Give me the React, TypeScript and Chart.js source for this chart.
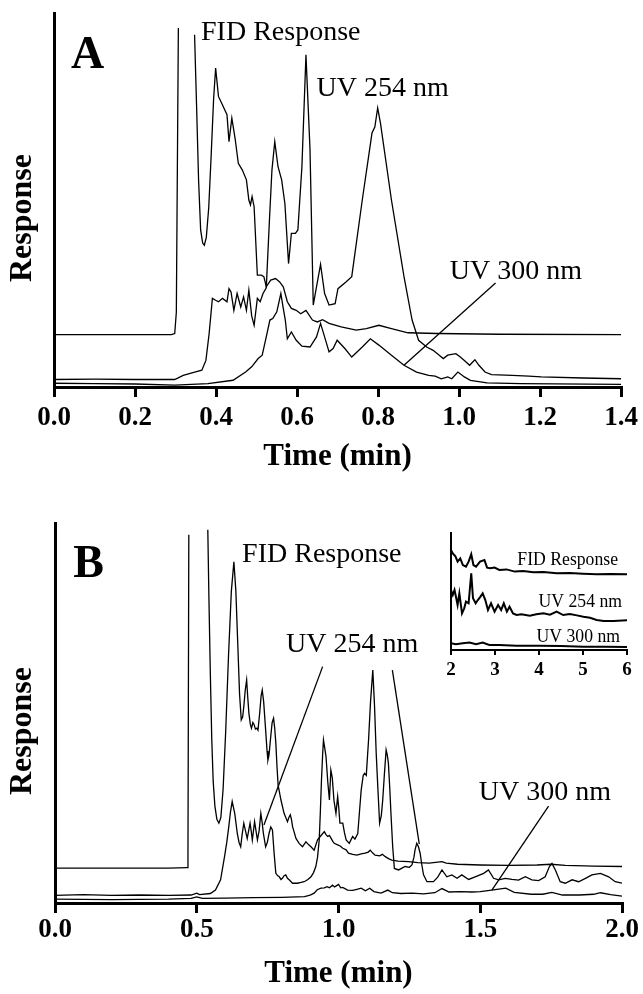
import React, { useEffect, useRef } from "react";
import { Chart, registerables } from "chart.js";

Chart.register(...registerables);

const SERIF = "'Liberation Serif', 'Times New Roman', Times, serif";

// ---------------- Panel A data (time in min, response in % of axis height) ----------------
const aFidTime = [0, 0.1, 0.2, 0.29, 0.298, 0.302, 0.307, 0.33, 0.347, 0.352, 0.357, 0.362, 0.367, 0.371, 0.376, 0.382, 0.388, 0.394, 0.399, 0.406, 0.416, 0.427, 0.432, 0.439, 0.447, 0.455, 0.465, 0.475, 0.481, 0.485, 0.489, 0.494, 0.502, 0.512, 0.518, 0.524, 0.535, 0.547, 0.557, 0.566, 0.576, 0.586, 0.598, 0.609, 0.622, 0.638, 0.65, 0.663, 0.679, 0.709, 0.746, 0.771, 0.802, 0.833, 0.874, 0.946, 1.1, 1.4];
const aFidResp = [14.0, 14.0, 14.0, 14.0, 14.3, 20, 96.0, null, 94.2, 75, 55, 42, 38.5, 37.9, 40, 48, 62, 77, 85.3, 77.7, 75.4, 72.8, 65.6, 71.9, 66.5, 59.8, 58.0, 55.4, 50.0, 48.7, 50.9, 48.2, 29.9, 29.9, 29.5, 26.8, 28.6, 29.0, 28.1, 26.8, 22.8, 21.0, 20.5, 19.6, 20.5, 17.9, 17.4, 18.0, 17.0, 16.1, 15.2, 15.6, 16.5, 15.6, 14.5, 14.3, 14.1, 14.0];

const aUv254Time = [0, 0.1, 0.2, 0.298, 0.319, 0.345, 0.365, 0.375, 0.383, 0.391, 0.399, 0.406, 0.416, 0.427, 0.432, 0.437, 0.444, 0.452, 0.461, 0.468, 0.475, 0.481, 0.488, 0.494, 0.502, 0.509, 0.516, 0.524, 0.532, 0.538, 0.545, 0.553, 0.562, 0.57, 0.579, 0.586, 0.596, 0.602, 0.612, 0.622, 0.632, 0.640, 0.648, 0.658, 0.668, 0.679, 0.694, 0.701, 0.72, 0.735, 0.761, 0.785, 0.792, 0.799, 0.806, 0.833, 0.864, 0.884, 0.90, 0.92, 0.936, 0.951, 0.961, 0.972, 0.992, 1.003, 1.013, 1.026, 1.039, 1.049, 1.064, 1.08, 1.131, 1.172, 1.203, 1.306, 1.4];
const aUv254Resp = [2.0, 2.1, 2.0, 2.0, 3.1, 3.9, 4.5, 7.1, 14.3, 23.7, 23.2, 22.8, 23.7, 22.8, 26.3, 25.4, 20.5, 25.0, 21.4, 24.1, 20.5, 25.9, 19.0, 16.5, 23.7, 22.8, 25.0, 26.5, 45, 58, 65.6, 58.9, 55.4, 49, 33.0, 41.1, 41.1, 42.0, 58.9, 88.8, 63.4, 21.9, 26.8, 32.8, 25.0, 21.9, 22.3, 26.3, 28, 29.5, 50, 67.9, 69.5, 74.6, 70.5, 50, 29.5, 17.9, 12.5, 10.7, 9.8, 8.5, 7.6, 8.5, 8.9, 8.0, 7.1, 5.8, 7.3, 5.8, 4.0, 3.3, 3.1, 2.9, 2.7, 2.4, 2.2];

const aUv300Time = [0, 0.1, 0.2, 0.298, 0.38, 0.442, 0.473, 0.488, 0.504, 0.514, 0.524, 0.533, 0.54, 0.55, 0.56, 0.566, 0.571, 0.576, 0.586, 0.598, 0.612, 0.632, 0.648, 0.658, 0.668, 0.679, 0.689, 0.699, 0.718, 0.735, 0.761, 0.781, 0.802, 0.833, 0.864, 0.895, 0.925, 0.941, 0.956, 0.972, 0.982, 0.997, 1.013, 1.028, 1.069, 1.152, 1.4];
const aUv300Resp = [1.0, 0.9, 0.8, 0.5, 0.9, 1.8, 4.0, 5.4, 7.6, 8.5, 13.4, 17.9, 18.3, 20.1, 25.0, 21.0, 17.9, 12.9, 14.7, 12.5, 10.9, 10.7, 13.4, 17.0, 13.4, 9.4, 10.3, 12.5, 10.3, 8.0, 10.7, 12.9, 11.2, 8.5, 5.8, 4.0, 3.1, 2.9, 2.2, 2.7, 2.2, 4.0, 2.7, 1.8, 1.1, 0.9, 0.7];

// ---------------- Panel B data ----------------
const bFidTime = [0, 0.2, 0.4, 0.466, 0.469, 0.472, 0.5, 0.539, 0.543, 0.548, 0.553, 0.558, 0.564, 0.571, 0.578, 0.585, 0.593, 0.602, 0.612, 0.622, 0.631, 0.638, 0.645, 0.651, 0.657, 0.662, 0.666, 0.671, 0.676, 0.680, 0.684, 0.689, 0.693, 0.698, 0.702, 0.707, 0.712, 0.716, 0.722, 0.727, 0.731, 0.736, 0.743, 0.748, 0.751, 0.755, 0.761, 0.766, 0.771, 0.775, 0.779, 0.783, 0.787, 0.797, 0.808, 0.82, 0.825, 0.83, 0.834, 0.838, 0.85, 0.861, 0.873, 0.885, 0.895, 0.903, 0.914, 0.926, 0.94, 0.95, 0.956, 0.962, 0.968, 0.974, 0.98, 0.985, 0.997, 1.006, 1.015, 1.027, 1.035, 1.05, 1.065, 1.08, 1.094, 1.105, 1.112, 1.12, 1.129, 1.145, 1.155, 1.165, 1.178, 1.188, 1.21, 1.247, 1.28, 1.32, 1.365, 1.38, 1.42, 1.5, 1.6, 1.7, 1.75, 1.8, 1.9, 2.0];
const bFidResp = [9.2, 9.2, 9.2, 9.3, 12, 96.9, null, 98.2, 80, 60, 43, 32, 25.5, 22, 21, 22.5, 30, 45, 65, 82, 89.8, 82, 67.5, 55, 48.2, 49, 51.7, 56, 58.7, 54, 49.9, 47, 46, 47.5, 47, 45.8, 46, 45.5, 50, 54.5, 56, 53, 45.5, 40, 37.6, 39, 43.8, 47.5, 48.6, 46, 42, 36, 31, 27.1, 23.6, 21.4, 22.5, 23.2, 22, 20.1, 17.0, 15.7, 14.8, 16.1, 15.3, 14.8, 13.9, 16.6, 17.9, 18.8, 18.0, 17.5, 17.8, 17.0, 16.2, 15.7, 15.3, 15.0, 14.4, 14.0, 13.1, 12.8, 12.6, 12.9, 13.1, 13.4, 13.9, 13.2, 12.6, 12.4, 12.8, 12.2, 11.6, 11.3, 11.0, 10.9, 10.6, 10.5, 10.9, 10.5, 10.2, 10.0, 9.9, 10.0, 10.2, 9.9, 9.7, 9.6];

const bUv254Time = [0, 0.1, 0.2, 0.3, 0.4, 0.48, 0.5, 0.51, 0.548, 0.566, 0.584, 0.598, 0.606, 0.613, 0.619, 0.625, 0.634, 0.643, 0.649, 0.655, 0.66, 0.666, 0.672, 0.678, 0.683, 0.688, 0.692, 0.696, 0.700, 0.704, 0.709, 0.714, 0.720, 0.726, 0.731, 0.735, 0.743, 0.749, 0.755, 0.761, 0.767, 0.773, 0.779, 0.785, 0.791, 0.797, 0.802, 0.808, 0.814, 0.82, 0.826, 0.838, 0.855, 0.868, 0.879, 0.892, 0.903, 0.912, 0.92, 0.926, 0.932, 0.936, 0.94, 0.944, 0.947, 0.951, 0.956, 0.962, 0.968, 0.973, 0.978, 0.984, 0.991, 0.997, 1.001, 1.005, 1.015, 1.021, 1.027, 1.038, 1.05, 1.058, 1.068, 1.074, 1.08, 1.087, 1.092, 1.098, 1.106, 1.113, 1.121, 1.127, 1.133, 1.139, 1.145, 1.151, 1.156, 1.162, 1.168, 1.172, 1.176, 1.181, 1.185, 1.191, 1.197, 1.212, 1.235, 1.25, 1.259, 1.266, 1.27, 1.276, 1.282, 1.288, 1.294, 1.3, 1.312, 1.335, 1.35, 1.365, 1.382, 1.4, 1.418, 1.435, 1.459, 1.482, 1.512, 1.529, 1.547, 1.565, 1.588, 1.612, 1.635, 1.659, 1.682, 1.706, 1.729, 1.744, 1.753, 1.765, 1.782, 1.8, 1.824, 1.847, 1.871, 1.894, 1.924, 1.953, 1.976, 2.0];
const bUv254Resp = [2.0, 2.2, 2.0, 2.1, 2.0, 2.1, 2.6, 2.2, 2.5, 3.4, 6.1, 12.2, 16, 20.1, 24, 26.7, 23.6, 18.3, 16, 14.8, 18, 21.0, 19, 17.0, 19, 21.0, 19, 16.6, 19, 21.4, 19, 16.6, 19, 23.6, 21, 18.3, 14.8, 16, 18.3, 20, 19.2, 13, 7.8, 7.2, 6.9, 6.2, 6.5, 7.2, 7.4, 6.5, 6.1, 5.2, 5.2, 5.4, 5.6, 6.2, 6.9, 8.0, 9.6, 12, 16.6, 24, 32.4, 39, 42.9, 41, 38.5, 32, 27.1, 35.0, 33, 27, 23.6, 28.0, 25, 21.0, 21.0, 18.5, 16.6, 15.7, 17.5, 16.8, 18.3, 24, 29.7, 33.5, 34.1, 33.6, 42.9, 53, 61.3, 52, 39.4, 30, 21.0, 23, 27.1, 34, 40.3, 39, 36.8, 30, 23.6, 15, 9.1, 8.7, 9.6, 9.4, 10.0, 12, 14, 15.7, 14.8, 13.1, 10, 7.4, 5.6, 5.6, 6.8, 8.7, 6.9, 7.4, 6.5, 7.4, 6.2, 6.9, 7.8, 8.7, 6.5, 6.1, 6.5, 6.2, 6.0, 6.9, 6.1, 5.9, 6.9, 9.6, 10.4, 8.7, 5.6, 5.2, 6.1, 5.6, 6.5, 7.4, 7.8, 6.9, 5.6, 5.2];

const bUv300Time = [0, 0.2, 0.4, 0.48, 0.5, 0.52, 0.6, 0.7, 0.8, 0.88, 0.9, 0.914, 0.925, 0.938, 0.95, 0.96, 0.968, 0.979, 0.986, 0.992, 1.0, 1.008, 1.015, 1.032, 1.05, 1.065, 1.08, 1.095, 1.11, 1.125, 1.15, 1.174, 1.19, 1.22, 1.26, 1.3, 1.34, 1.365, 1.39, 1.43, 1.47, 1.5, 1.54, 1.59, 1.62, 1.68, 1.72, 1.753, 1.79, 1.85, 1.9, 1.924, 1.96, 2.0];
const bUv300Resp = [1.0, 0.9, 1.0, 1.2, 1.6, 1.2, 1.3, 1.4, 1.5, 1.7, 2.1, 2.6, 3.5, 3.9, 4.0, 4.3, 4.0, 4.7, 4.2, 4.5, 4.9, 4.0, 4.1, 3.4, 3.3, 3.6, 3.9, 3.2, 3.9, 3.0, 2.6, 3.4, 2.7, 2.5, 2.6, 2.4, 2.7, 3.8, 2.9, 3.0, 2.9, 3.0, 3.4, 3.9, 2.8, 2.3, 2.3, 2.8, 2.1, 2.1, 2.3, 2.7, 2.2, 1.8];

// ---------------- Inset (2-6 min) data ----------------
const insetFidTime = [2.0, 2.04, 2.1, 2.15, 2.21, 2.27, 2.34, 2.4, 2.46, 2.51, 2.57, 2.66, 2.76, 2.82, 2.89, 2.99, 3.1, 3.26, 3.45, 3.64, 3.87, 4.1, 4.4, 4.7, 5.0, 5.31, 5.62, 6.0];
const insetFidResp = [85.5, 82.6, 80, 75.5, 78.3, 72.6, 71.2, 75.5, 81.8, 72.6, 71.2, 75.5, 76.9, 70.4, 69.8, 70.4, 68.4, 68.9, 67.0, 67.5, 66.4, 66.6, 65.5, 65.8, 65.2, 64.7, 64.9, 64.7];
const insetUv254Time = [2.0, 2.04, 2.08, 2.11, 2.15, 2.19, 2.25, 2.3, 2.34, 2.4, 2.46, 2.5, 2.56, 2.61, 2.67, 2.72, 2.78, 2.84, 2.91, 2.99, 3.07, 3.14, 3.2, 3.27, 3.33, 3.41, 3.49, 3.6, 3.79, 3.94, 4.1, 4.25, 4.4, 4.55, 4.7, 4.86, 5.01, 5.16, 5.31, 5.47, 5.7, 6.0];
const insetUv254Resp = [51.3, 47.0, 51.3, 46, 38.5, 48.4, 31.3, 35.6, 41.3, 39.9, 65.5, 44.2, 39.9, 42.7, 45.6, 48.4, 42.7, 34.2, 39.9, 32.8, 38.5, 34.2, 39.9, 32.8, 37.0, 31.3, 29.9, 30.5, 29.3, 30.5, 31.3, 30.2, 32.8, 29.9, 30.8, 29.6, 28.5, 27.6, 25.6, 24.8, 24.8, 25.4];
const insetUv300Time = [2.0, 2.11, 2.27, 2.42, 2.57, 2.72, 2.87, 3.1, 3.49, 4.0, 4.5, 5.01, 5.5, 6.0];
const insetUv300Resp = [5.7, 4.9, 5.7, 6.3, 4.9, 6.3, 4.3, 4.3, 3.7, 3.6, 3.4, 2.8, 2.7, 2.6];

// ---------------- axes ----------------
const aTimeMax = 1.4;
const aTimeStep = 0.2;
const bTimeMax = 2.0;
const bTimeStep = 0.5;
const insetTimeMin = 2;
const insetTimeMax = 6;
const insetTimeStep = 1;
const xTitle = "Time (min)";
const yTitle = "Response";

type Note = { t: number; r: number; text: string; size: number; bold?: boolean; align?: CanvasTextAlign; sx?: number };
type Leader = [number, number, number, number];

// label placements (in data units)
const aNotes: Note[] = [
  { t: 0.042, r: 85.3, text: "A", size: 46, bold: true },
  { t: 0.363, r: 92.9, text: "FID Response", size: 28 },
  { t: 0.648, r: 77.7, text: "UV 254 nm", size: 28 },
  { t: 0.977, r: 29.0, text: "UV 300 nm", size: 28 },
];
const aLeaders: Leader[] = [[1.09, 27.8, 0.864, 5.8]];

const bNotes: Note[] = [
  { t: 0.064, r: 85.8, text: "B", size: 46, bold: true },
  { t: 0.66, r: 89.8, text: "FID Response", size: 28 },
  { t: 0.815, r: 66.1, text: "UV 254 nm", size: 28 },
  { t: 1.495, r: 27.0, text: "UV 300 nm", size: 28 },
];
const bLeaders: Leader[] = [
  [0.944, 62.2, 0.737, 20.5],
  [1.19, 61.3, 1.285, 15.5],
  [1.741, 25.5, 1.541, 3.4],
];

const insetNotes: Note[] = [
  { t: 5.795, r: 72.6, text: "FID Response", size: 19, align: "right", sx: 0.93 },
  { t: 5.886, r: 36.8, text: "UV 254 nm", size: 19, align: "right", sx: 0.93 },
  { t: 5.84, r: 6.8, text: "UV 300 nm", size: 19, align: "right", sx: 0.93 },
];

function pts(ts: number[], rs: (number | null)[]) {
  return ts.map((t, i) => ({ x: t, y: rs[i] }));
}

function line(ts: number[], rs: (number | null)[], w: number) {
  return {
    data: pts(ts, rs),
    borderColor: "#000",
    borderWidth: w,
    pointRadius: 0,
    fill: false,
    tension: 0,
    spanGaps: false,
  };
}

function overlay(id: string, notes: Note[], leaders: Leader[], yt?: { text: string; dx: number; dy: number; size: number }) {
  return {
    id,
    afterDraw(chart: any) {
      const { ctx, chartArea } = chart;
      const xs = chart.scales.x;
      const ys = chart.scales.y;
      ctx.save();
      ctx.fillStyle = "#000";
      ctx.strokeStyle = "#000";
      ctx.lineWidth = 1.3;
      for (const [t1, r1, t2, r2] of leaders) {
        ctx.beginPath();
        ctx.moveTo(xs.getPixelForValue(t1), ys.getPixelForValue(r1));
        ctx.lineTo(xs.getPixelForValue(t2), ys.getPixelForValue(r2));
        ctx.stroke();
      }
      for (const n of notes) {
        ctx.save();
        ctx.font = `${n.bold ? "bold " : ""}${n.size}px ${SERIF}`;
        ctx.textAlign = n.align ?? "left";
        ctx.textBaseline = "alphabetic";
        ctx.translate(xs.getPixelForValue(n.t), ys.getPixelForValue(n.r));
        ctx.scale(n.sx ?? 1, 1);
        ctx.fillText(n.text, 0, 0);
        ctx.restore();
      }
      if (yt) {
        ctx.save();
        ctx.translate(chartArea.left - yt.dx, (chartArea.top + chartArea.bottom) / 2 + yt.dy);
        ctx.rotate(-Math.PI / 2);
        ctx.font = `bold ${yt.size}px ${SERIF}`;
        ctx.textAlign = "center";
        ctx.textBaseline = "middle";
        ctx.fillText(yt.text, 0, 0);
        ctx.restore();
      }
      ctx.restore();
    },
  };
}

function mainOptions(o: { xMax: number; step: number; padTop: number; padLeft: number; padRight: number; xHeight: number; tickPad: number; titlePad: number }) {
  return {
    animation: false,
    responsive: false,
    maintainAspectRatio: false,
    events: [],
    layout: { padding: { top: o.padTop, left: o.padLeft, right: o.padRight, bottom: 0 } },
    plugins: { legend: { display: false }, tooltip: { enabled: false }, title: { display: false } },
    scales: {
      x: {
        type: "linear",
        min: 0,
        max: o.xMax,
        ticks: {
          stepSize: o.step,
          autoSkip: false,
          maxRotation: 0,
          padding: o.tickPad,
          color: "#000",
          font: { family: SERIF, size: 27, weight: "bold", lineHeight: 1.2 },
          callback: (v: any) => Number(v).toFixed(1),
        },
        grid: { display: true, drawOnChartArea: false, drawTicks: true, tickLength: 10, lineWidth: 3, color: "#000" },
        border: { display: true, width: 3, color: "#000" },
        title: {
          display: true,
          text: xTitle,
          color: "#000",
          font: { family: SERIF, size: 31, weight: "bold", lineHeight: 1.2 },
          padding: { top: 0, bottom: o.titlePad },
        },
        afterFit: (s: any) => {
          s.height = o.xHeight;
        },
      },
      y: {
        type: "linear",
        min: 0,
        max: 100,
        ticks: { display: false },
        grid: { display: false },
        border: { display: true, width: 3, color: "#000" },
        afterFit: (s: any) => {
          s.width = 0;
        },
      },
    },
  };
}

export default function App() {
  const aRef = useRef<HTMLCanvasElement>(null);
  const bRef = useRef<HTMLCanvasElement>(null);
  const iRef = useRef<HTMLCanvasElement>(null);

  useEffect(() => {
    const charts: Chart[] = [];
    charts.push(
      new Chart(aRef.current as HTMLCanvasElement, {
        type: "line",
        data: {
          datasets: [
            line(aFidTime, aFidResp, 1.3),
            line(aUv254Time, aUv254Resp, 1.3),
            line(aUv300Time, aUv300Resp, 1.3),
          ] as any,
        },
        options: mainOptions({ xMax: aTimeMax, step: aTimeStep, padTop: 13, padLeft: 54, padRight: 21, xHeight: 93, tickPad: 5, titlePad: 4 }) as any,
        plugins: [overlay("annotA", aNotes, aLeaders, { text: yTitle, dx: 31, dy: 18, size: 32 })],
      })
    );
    charts.push(
      new Chart(bRef.current as HTMLCanvasElement, {
        type: "line",
        data: {
          datasets: [
            line(bFidTime, bFidResp, 1.3),
            line(bUv254Time, bUv254Resp, 1.3),
            line(bUv300Time, bUv300Resp, 1.3),
          ] as any,
        },
        options: mainOptions({ xMax: bTimeMax, step: bTimeStep, padTop: 43, padLeft: 55, padRight: 21, xHeight: 91, tickPad: 1, titlePad: 1 }) as any,
        plugins: [overlay("annotB", bNotes, bLeaders, { text: yTitle, dx: 32, dy: 18, size: 32 })],
      })
    );
    charts.push(
      new Chart(iRef.current as HTMLCanvasElement, {
        type: "line",
        data: {
          datasets: [
            line(insetFidTime, insetFidResp, 2),
            line(insetUv254Time, insetUv254Resp, 2),
            line(insetUv300Time, insetUv300Resp, 2),
          ] as any,
        },
        options: {
          animation: false,
          responsive: false,
          maintainAspectRatio: false,
          events: [],
          layout: { padding: { top: 13, left: 15, right: 9, bottom: 0 } },
          plugins: { legend: { display: false }, tooltip: { enabled: false } },
          scales: {
            x: {
              type: "linear",
              min: insetTimeMin,
              max: insetTimeMax,
              ticks: {
                stepSize: insetTimeStep,
                autoSkip: false,
                maxRotation: 0,
                padding: 4,
                color: "#000",
                font: { family: SERIF, size: 19, weight: "bold", lineHeight: 1.2 },
                callback: (v: any) => String(Math.round(Number(v))),
              },
              grid: { display: true, drawOnChartArea: false, drawTicks: true, tickLength: 5, lineWidth: 2, color: "#000" },
              border: { display: true, width: 2, color: "#000" },
              afterFit: (s: any) => {
                s.height = 40;
              },
            },
            y: {
              type: "linear",
              min: 0,
              max: 100,
              ticks: { display: false },
              grid: { display: false },
              border: { display: true, width: 2, color: "#000" },
              afterFit: (s: any) => {
                s.width = 0;
              },
            },
          },
        } as any,
        plugins: [overlay("annotInset", insetNotes, [])],
      })
    );
    return () => charts.forEach((c) => c.destroy());
  }, []);

  return (
    <div style={{ position: "absolute", left: 0, top: 0, width: 643, height: 994, background: "#fff", overflow: "hidden" }}>
      <canvas ref={aRef} width={643} height={480} style={{ position: "absolute", left: 0, top: 0, width: 643, height: 480 }} />
      <canvas ref={bRef} width={643} height={514} style={{ position: "absolute", left: 0, top: 480, width: 643, height: 514 }} />
      <canvas ref={iRef} width={200} height={170} style={{ position: "absolute", left: 436, top: 520, width: 200, height: 170 }} />
    </div>
  );
}
